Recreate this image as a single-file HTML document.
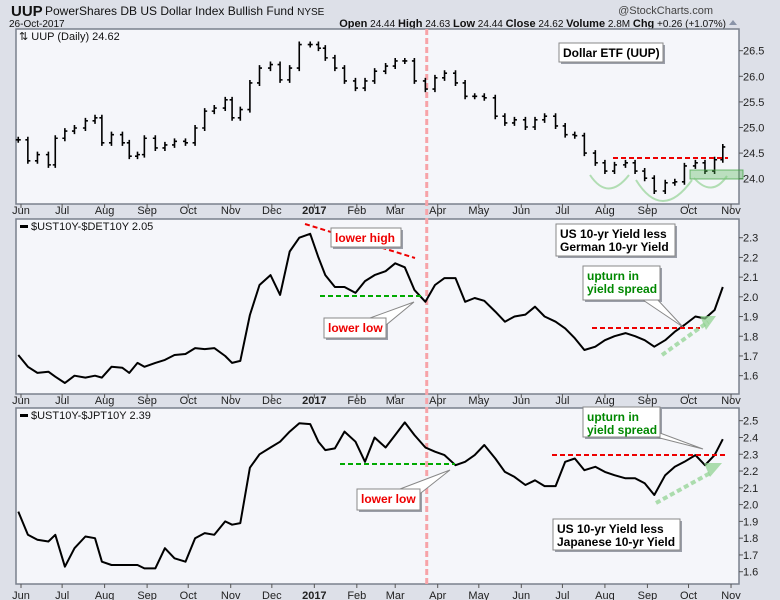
<!DOCTYPE html>
<html><head><meta charset="utf-8">
<style>
html,body{margin:0;padding:0;background:#dde0e8;}
svg{display:block;font-family:"Liberation Sans",sans-serif;}
</style></head>
<body>
<svg id="chart" width="780" height="600" viewBox="0 0 780 600" xmlns="http://www.w3.org/2000/svg">
<rect x="0" y="0" width="780" height="600" fill="#dde0e8"/>
<g>
<text x="11" y="16" font-size="15" font-weight="bold" fill="#111">UUP</text>
<text x="45" y="15" font-size="12" fill="#111">PowerShares DB US Dollar Index Bullish Fund <tspan font-size="10">NYSE</tspan></text>
<text x="713" y="14" font-size="11" fill="#444" text-anchor="end">@StockCharts.com</text>
<text x="9" y="27" font-size="10" fill="#111">26-Oct-2017</text>
<text x="726" y="27" font-size="10" fill="#111" text-anchor="end"><tspan font-weight="bold" font-size="11">Open</tspan> 24.44 <tspan font-weight="bold" font-size="11">High</tspan> 24.63 <tspan font-weight="bold" font-size="11">Low</tspan> 24.44 <tspan font-weight="bold" font-size="11">Close</tspan> 24.62 <tspan font-weight="bold" font-size="11">Volume</tspan> 2.8M <tspan font-weight="bold" font-size="11">Chg</tspan> +0.26 (+1.07%)</text>
<path d="M729 25 L733 20 L737 25 Z" fill="#8a94a8"/>
</g>
<g id="panels"></g>
<g id="notes"></g>
</svg>
<script>
const dates = ["2016-05-30","2016-06-06","2016-06-13","2016-06-21","2016-06-26","2016-07-03","2016-07-10","2016-07-18","2016-07-25","2016-07-30","2016-08-06","2016-08-14","2016-08-19","2016-08-25","2016-08-30","2016-09-07","2016-09-14","2016-09-21","2016-09-29","2016-10-06","2016-10-13","2016-10-20","2016-10-28","2016-11-02","2016-11-08","2016-11-15","2016-11-22","2016-11-30","2016-12-07","2016-12-14","2016-12-21","2016-12-29","2017-01-04","2017-01-09","2017-01-16","2017-01-23","2017-01-31","2017-02-07","2017-02-14","2017-02-22","2017-03-01","2017-03-08","2017-03-15","2017-03-23","2017-03-30","2017-04-06","2017-04-14","2017-04-21","2017-04-28","2017-05-05","2017-05-13","2017-05-20","2017-05-27","2017-06-04","2017-06-11","2017-06-18","2017-06-26","2017-07-03","2017-07-10","2017-07-17","2017-07-25","2017-08-01","2017-08-08","2017-08-16","2017-08-23","2017-08-30","2017-09-06","2017-09-14","2017-09-21","2017-09-28","2017-10-06","2017-10-13","2017-10-20","2017-10-26"];
const uupClose = [24.76,24.35,24.47,24.27,24.79,24.93,24.99,25.13,25.19,24.70,24.86,24.70,24.44,24.47,24.79,24.60,24.66,24.73,24.70,24.99,25.32,25.38,25.54,25.19,25.35,25.87,26.16,26.23,25.93,26.16,26.62,26.62,26.55,26.36,26.16,25.91,25.77,25.91,26.10,26.20,26.30,26.30,25.91,25.75,25.97,26.06,25.87,25.61,25.61,25.58,25.22,25.09,25.15,25.01,25.15,25.22,25.03,24.86,24.84,24.50,24.31,24.15,24.27,24.31,24.15,24.01,23.76,23.92,23.94,24.25,24.31,24.15,24.37,24.62];
const usDeSpread = [1.705,1.645,1.614,1.62,1.595,1.563,1.60,1.59,1.60,1.59,1.645,1.64,1.614,1.665,1.645,1.665,1.68,1.705,1.71,1.74,1.735,1.74,1.70,1.665,1.675,1.908,2.06,2.11,2.01,2.23,2.30,2.32,2.20,2.11,2.05,2.05,2.02,2.08,2.11,2.13,2.17,2.15,2.035,1.975,2.06,2.095,2.095,1.975,1.994,1.98,1.925,1.874,1.90,1.91,1.95,1.90,1.874,1.84,1.79,1.73,1.747,1.78,1.80,1.816,1.80,1.78,1.747,1.78,1.823,1.857,1.90,1.89,1.933,2.05];
const usJpSpread = [1.958,1.82,1.79,1.78,1.82,1.63,1.74,1.81,1.80,1.66,1.64,1.64,1.64,1.64,1.62,1.62,1.74,1.68,1.66,1.80,1.83,1.82,1.90,1.88,1.89,2.22,2.30,2.34,2.375,2.435,2.485,2.48,2.375,2.325,2.335,2.435,2.375,2.255,2.40,2.34,2.415,2.49,2.415,2.34,2.315,2.295,2.235,2.255,2.295,2.355,2.275,2.195,2.165,2.117,2.145,2.11,2.11,2.255,2.275,2.205,2.225,2.195,2.175,2.157,2.157,2.127,2.057,2.175,2.225,2.255,2.295,2.235,2.295,2.39];
const monthTicks = ["2016-06-01","2016-07-01","2016-08-01","2016-09-01","2016-10-01","2016-11-01","2016-12-01","2017-01-01","2017-02-01","2017-03-01","2017-04-01","2017-05-01","2017-06-01","2017-07-01","2017-08-01","2017-09-01","2017-10-01","2017-11-01"];
const monthLabels = ["Jun","Jul","Aug","Sep","Oct","Nov","Dec","2017","Feb","Mar","Apr","May","Jun","Jul","Aug","Sep","Oct","Nov"];
const uupTicks = [24.0,24.5,25.0,25.5,26.0,26.5];
const deTicks = [1.6,1.7,1.8,1.9,2.0,2.1,2.2,2.3];
const jpTicks = [1.6,1.7,1.8,1.9,2.0,2.1,2.2,2.3,2.4,2.5];

const NS="http://www.w3.org/2000/svg";
const svg=document.getElementById('chart');
const gP=document.getElementById('panels');
const gN=document.getElementById('notes');
function mk(tag,attrs,parent){const e=document.createElementNS(NS,tag);for(const k in attrs)e.setAttribute(k,attrs[k]);(parent||gP).appendChild(e);return e;}
const t0=Date.UTC(2016,5,1);
function xScale(d){const p=d.split('-');const t=Date.UTC(+p[0],+p[1]-1,+p[2]);return 21+(t-t0)/86400000*1.3707;}
function yScale(v,top,vTop,ppu){return top+(vTop-v)*ppu;}

const L=16,R=739;
const panels=[
 {name:'uup-price-panel',top:29,bot:204,vTop:26.5,yTop:50.7,ppu:51.2,ticks:uupTicks,fmt:v=>v.toFixed(1),axisY:212},
 {name:'us-de-spread-panel',top:219,bot:394,vTop:2.3,yTop:237.7,ppu:197.1,ticks:deTicks,fmt:v=>v.toFixed(1),axisY:402},
 {name:'us-jp-spread-panel',top:408,bot:584,vTop:2.5,yTop:420.7,ppu:167.8,ticks:jpTicks,fmt:v=>v.toFixed(1),axisY:597}
];
panels.forEach((p,i)=>{
 const g=mk('g',{});
 
 
 const r=mk('rect',{x:L,y:p.top,width:R-L,height:p.bot-p.top,fill:'#f5f6fa',stroke:'#7a808c','stroke-width':1.5},g);
 
 
 p.ticks.forEach(v=>{
  const y=p.yTop+(p.vTop-v)*p.ppu;
  mk('line',{x1:R,x2:R+4,y1:y,y2:y,stroke:'#555'},g);
  const t=mk('text',{x:R+4,y:y+4,'font-size':11,fill:'#222'},g);
  t.textContent=p.fmt(v);
  
  
 });
 monthTicks.forEach((d,j)=>{
  const x=xScale(d);
  mk('line',{x1:x,x2:x,y1:p.bot,y2:p.bot+4,stroke:'#555'},g);
  const t=mk('text',{x:x,y:p.axisY+2,'font-size':11,fill:'#222','text-anchor':'middle','font-weight':monthLabels[j]==='2017'?'bold':'normal'},g);
  t.textContent=monthLabels[j];
  
  
 });
});
// vertical event line
const vx=xScale("2017-03-24");
const vl=mk('line',{x1:vx,x2:vx,y1:29,y2:584,stroke:'#f7a3a8','stroke-width':3,'stroke-dasharray':'6,3'});



// UUP bars
const p0=panels[0];
const bars=mk('g',{});


uupClose.forEach((c,i)=>{
 const o=i>0?uupClose[i-1]:c;
 const x=xScale(dates[i]);
 const yo=yScale(o,p0.yTop,p0.vTop,p0.ppu), yc=yScale(c,p0.yTop,p0.vTop,p0.ppu);
 const hi=Math.min(yo,yc)-3, lo=Math.max(yo,yc)+3;
 const b=mk('path',{d:`M${x} ${hi}V${lo}M${x-2.5} ${yo}H${x}M${x} ${yc}H${x+2.5}`,stroke:'#000','stroke-width':1.6,fill:'none'},bars);
 
 
});
function drawLine(vals,p,name){
 const d=vals.map((v,i)=>(i?'L':'M')+xScale(dates[i]).toFixed(1)+' '+yScale(v,p.yTop,p.vTop,p.ppu).toFixed(1)).join('');
 const l=mk('path',{d:d,fill:'none',stroke:'#000','stroke-width':2,'stroke-linejoin':'round'});
 
 
}
drawLine(usDeSpread,panels[1],'us-de-spread-line');
drawLine(usJpSpread,panels[2],'us-jp-spread-line');

// titles
function title(x,y,txt,name,ic){
 const g=mk('g',{},gN);
 
 
 if(ic) mk('rect',{x:x,y:y-5,width:8,height:3,fill:'#000'},g);
 const t=mk('text',{x:x+(ic?11:0),y:y,'font-size':11,fill:'#111'},g);
 t.textContent=txt;
}
title(19,40,'\u21c5 UUP (Daily) 24.62','uup-panel-title',false);
title(20,230,'$UST10Y-$DET10Y 2.05','de-panel-title',true);
title(20,419,'$UST10Y-$JPT10Y 2.39','jp-panel-title',true);

function dash(x1,y1,x2,y2,col,name,w,da){
 const l=mk('line',{x1,y1,x2,y2,stroke:col,'stroke-width':w||2,'stroke-dasharray':da||'5,3'},gN);
 
 
}
function box(x,y,w,h,lines,col,name,ptr){
 const g=mk('g',{},gN);
 
 
 mk('rect',{x:x+2,y:y+2,width:w,height:h,fill:'#9a9ea8'},g);
 if(ptr) mk('path',{d:ptr,fill:'#fff',stroke:'#888'},g);
 mk('rect',{x:x,y:y,width:w,height:h,fill:'#fff',stroke:'#888'},g);
 lines.forEach((s,i)=>{const t=mk('text',{x:x+4,y:y+14+i*13,'font-size':12,'font-weight':'bold',fill:col},g);t.textContent=s;});
}
// panel 1 notes
dash(613,158,728,158,'#e00','resistance-line');
const gr=mk('rect',{x:690,y:170,width:53,height:9,fill:'rgba(80,180,80,0.35)',stroke:'rgba(60,160,60,0.7)'},gN);


const arcs=mk('path',{d:'M590 175 Q608 202 629 175 M636 180 Q662 222 692 180 M694 178 Q712 198 727 176',fill:'none',stroke:'rgba(120,200,120,0.55)','stroke-width':2},gN);


box(559,43,104,19,['Dollar ETF (UUP)'],'#000','uup-label-box');
// panel 2 notes
dash(305,224,415,258,'#e00','lower-high-line');
box(331,228,70,19,['lower high'],'#e00','lower-high-label');
dash(320,296,422,296,'#0a0','lower-low-line-de');
box(324,318,62,20,['lower low'],'#e00','lower-low-label-de','M370 318 L414 302 L380 330 Z');
box(556,224,119,32,['US 10-yr Yield less','German 10-yr Yield'],'#000','de-description-box');
box(583,266,77,34,['upturn in','yield spread'],'#080','upturn-label-de','M640 298 L683 327 L656 298 Z');
dash(592,328,700,328,'#e00','de-resistance-line');
dash(662,355,708,322,'rgba(140,210,140,0.7)','de-trend-arrow',4,'5,3');
const a1=mk('path',{d:'M700 316 L716 316 L706 330 Z',fill:'rgba(140,210,140,0.7)'},gN);

// panel 3 notes
dash(340,464,455,464,'#0a0','lower-low-line-jp');
box(357,489,63,21,['lower low'],'#e00','lower-low-label-jp','M400 489 L450 470 L412 500 Z');
dash(552,455,728,455,'#e00','jp-resistance-line');
box(583,407,77,30,['upturn in','yield spread'],'#080','upturn-label-jp','M640 433 L703 449 L660 433 Z');
box(553,519,127,31,['US 10-yr Yield less','Japanese 10-yr Yield'],'#000','jp-description-box');
dash(656,503,712,472,'rgba(140,210,140,0.7)','jp-trend-arrow',4,'5,3');
const a2=mk('path',{d:'M704 463 L722 463 L710 477 Z',fill:'rgba(140,210,140,0.7)'},gN);

</script>
</body></html>
